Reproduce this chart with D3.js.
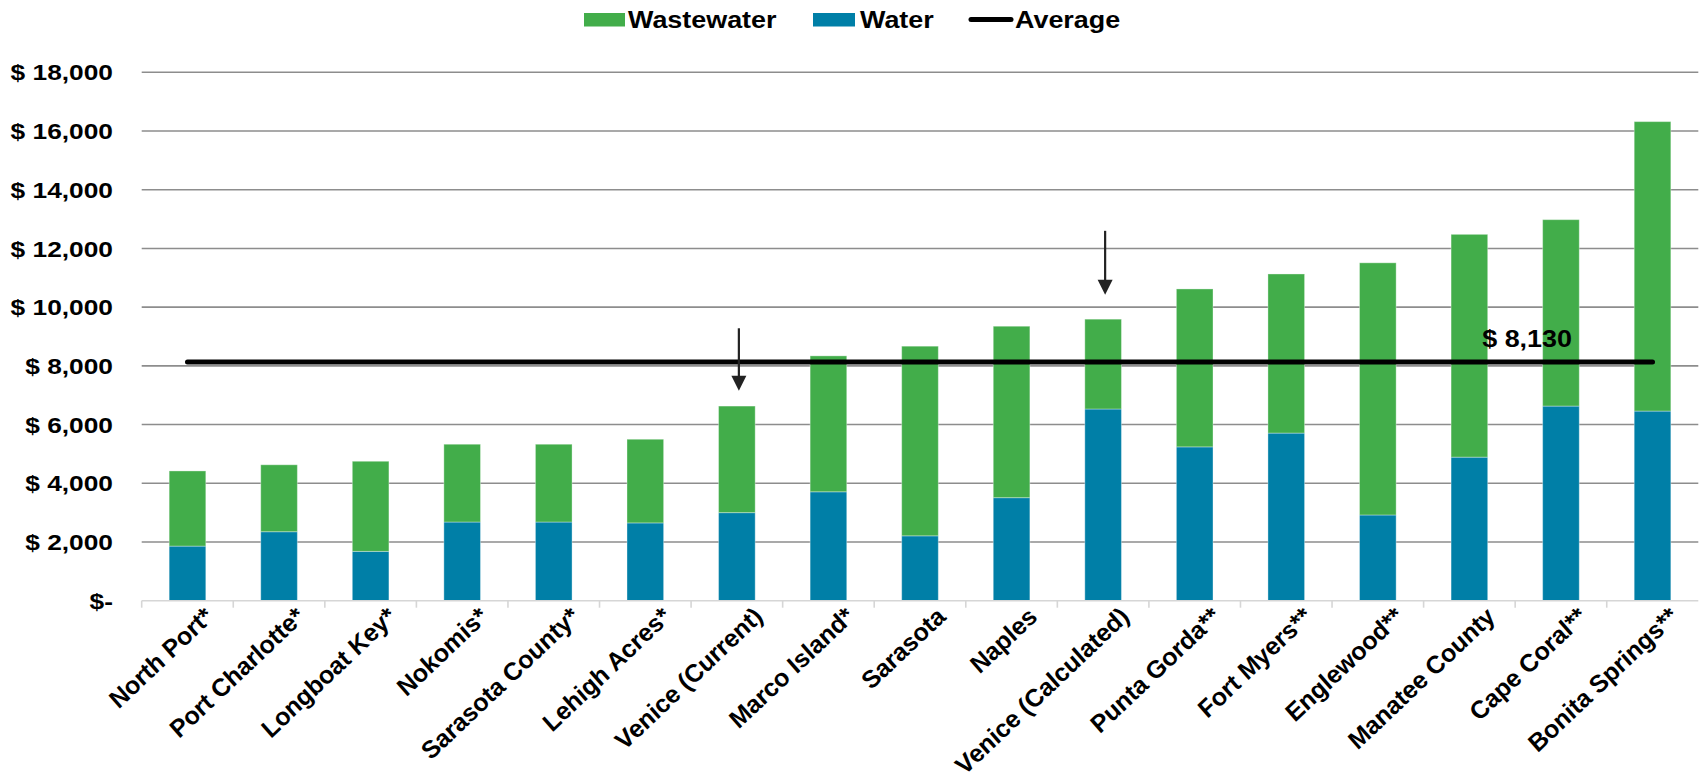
<!DOCTYPE html>
<html>
<head>
<meta charset="utf-8">
<script src="https://cdn.jsdelivr.net/npm/d3@7"></script>
<style>
  html, body { margin: 0; padding: 0; background: #fff; }
  svg { display: block; }
  text { font-family: "Liberation Sans", Arial, sans-serif; font-weight: bold; fill: #000; }
</style>
</head>
<body>
<svg id="chart" width="1699" height="778"></svg>
<script>
// Annual water + wastewater cost per household, by utility
const categories = [
  "North Port*", "Port Charlotte*", "Longboat Key*", "Nokomis*", "Sarasota County*",
  "Lehigh Acres*", "Venice (Current)", "Marco Island*", "Sarasota", "Naples",
  "Venice (Calculated)", "Punta Gorda**", "Fort Myers**", "Englewood**",
  "Manatee County", "Cape Coral**", "Bonita Springs**"
];
const waterValues = [
  1860, 2350, 1680, 2680, 2680, 2650, 3000, 3710, 2210, 3510,
  6530, 5240, 5710, 2920, 4890, 6630, 6460
];
const wastewaterValues = [
  2560, 2280, 3070, 2650, 2650, 2850, 3630, 4630, 6460, 5840,
  3060, 5380, 5420, 8590, 7590, 6350, 9860
];
const averageValue = 8130;
const yTickValues = [0, 2000, 4000, 6000, 8000, 10000, 12000, 14000, 16000, 18000];
const seriesNames = ["Wastewater", "Water", "Average"];
// Call-out arrows: category plus start / tip values on the cost axis
const arrowNotes = [
  { category: "Venice (Current)", from: 9280, to: 7150 },
  { category: "Venice (Calculated)", from: 12600, to: 10420 }
];

const colors = { Wastewater: "#42ad4a", Water: "#007fa7", Average: "#000" };
const sx = 1.17; // horizontal text stretch

const svg = d3.select("#chart");
const plot = { left: 141.7, right: 1698.3, top: 72.3, bottom: 600.7 };

const x = d3.scaleBand()
  .domain(categories)
  .range([plot.left, plot.right])
  .paddingInner(0.6)
  .paddingOuter(0.3);

const y = d3.scaleLinear()
  .domain([0, 18000])
  .range([plot.bottom, plot.top]);

const fmt = d3.format(",");
const tickLabel = v => v === 0 ? "$-" : "$ " + fmt(v);

// Gridlines
svg.append("g")
  .selectAll("line")
  .data(yTickValues.filter(v => v > 0))
  .join("line")
  .attr("x1", plot.left).attr("x2", plot.right)
  .attr("y1", d => y(d)).attr("y2", d => y(d))
  .attr("stroke", "#8d8d8d")
  .attr("stroke-width", 1.6);

// Y tick labels
svg.append("g")
  .selectAll("g")
  .data(yTickValues)
  .join("g")
  .attr("transform", d => `translate(113,${y(d)}) scale(${sx},1)`)
  .append("text")
  .attr("text-anchor", "end")
  .attr("dy", "0.36em")
  .style("font-size", "22.5px")
  .text(tickLabel);

// Stacked bars
const rows = categories.map((c, i) => ({ category: c, Water: waterValues[i], Wastewater: wastewaterValues[i] }));
const stacked = d3.stack().keys(["Water", "Wastewater"])(rows);

svg.append("g")
  .selectAll("g")
  .data(stacked)
  .join("g")
  .attr("fill", s => colors[s.key])
  .selectAll("rect")
  .data(s => s)
  .join("rect")
  .attr("x", d => x(d.data.category))
  .attr("width", x.bandwidth())
  .attr("y", d => y(d[1]))
  .attr("height", d => y(d[0]) - y(d[1]))
  .attr("stroke", "rgba(255,255,255,0.35)")
  .attr("stroke-width", 1);

// Category axis
const xAxis = svg.append("g");
xAxis.append("line")
  .attr("x1", plot.left).attr("x2", plot.right)
  .attr("y1", y(0)).attr("y2", y(0))
  .attr("stroke", "#d6d6d6").attr("stroke-width", 1.6);
const boundaries = categories.map(c => x(c) - x.step() * x.paddingInner() / 2);
xAxis.selectAll("line.tick")
  .data(boundaries)
  .join("line")
  .attr("class", "tick")
  .attr("x1", d => d).attr("x2", d => d)
  .attr("y1", y(0)).attr("y2", y(0) + 7)
  .attr("stroke", "#d6d6d6").attr("stroke-width", 1.6);

xAxis.selectAll("g.lbl")
  .data(categories)
  .join("g")
  .attr("class", "lbl")
  .attr("transform", d => `translate(${x(d) + x.bandwidth() / 2 + 28},${y(0) + 17}) scale(${sx},1) rotate(-48)`)
  .append("text")
  .attr("text-anchor", "end")
  .style("font-size", "23px")
  .style("font-style", "italic")
  .text(d => d);

// Average line
const avgLine = d3.line().x(d => x(d) + x.bandwidth() / 2).y(() => y(averageValue));
svg.append("path")
  .datum([categories[0], categories[categories.length - 1]])
  .attr("d", avgLine)
  .attr("stroke", colors.Average)
  .attr("stroke-width", 5)
  .attr("stroke-linecap", "round")
  .attr("fill", "none");

svg.append("g")
  .attr("transform", `translate(${x("Cape Coral**") + x.bandwidth() / 2 + 11},${y(averageValue) - 15}) scale(${sx},1)`)
  .append("text")
  .attr("text-anchor", "end")
  .style("font-size", "23px")
  .text("$ " + fmt(averageValue));

// Call-out arrows
const arrows = svg.append("g");
arrowNotes.forEach(a => {
  const cx = x(a.category) + x.bandwidth() / 2 + 2;
  const y1 = y(a.from), y2 = y(a.to);
  arrows.append("line")
    .attr("x1", cx).attr("x2", cx)
    .attr("y1", y1).attr("y2", y2 - 12)
    .attr("stroke", "#222").attr("stroke-width", 2.2);
  arrows.append("path")
    .attr("d", `M${cx - 7.5},${y2 - 15} L${cx + 7.5},${y2 - 15} L${cx},${y2} Z`)
    .attr("fill", "#222");
});

// Legend
const legend = svg.append("g");
const legendLayout = [
  { name: seriesNames[0], x0: 584, x1: 625, tx: 628 },
  { name: seriesNames[1], x0: 813, x1: 855, tx: 860 },
  { name: seriesNames[2], x0: 969, x1: 1013, tx: 1015 }
];
legendLayout.forEach(l => {
  if (l.name === "Average") {
    legend.append("line")
      .attr("x1", l.x0 + 2).attr("x2", l.x1 - 2)
      .attr("y1", 19.5).attr("y2", 19.5)
      .attr("stroke", colors.Average).attr("stroke-width", 5)
      .attr("stroke-linecap", "round");
  } else {
    legend.append("rect")
      .attr("x", l.x0).attr("y", 13)
      .attr("width", l.x1 - l.x0).attr("height", 13.5)
      .attr("fill", colors[l.name]);
  }
  legend.append("g")
    .attr("transform", `translate(${l.tx},20) scale(${sx},1)`)
    .append("text")
    .attr("dy", "0.36em")
    .style("font-size", "23px")
    .text(l.name);
});
</script>
</body>
</html>
